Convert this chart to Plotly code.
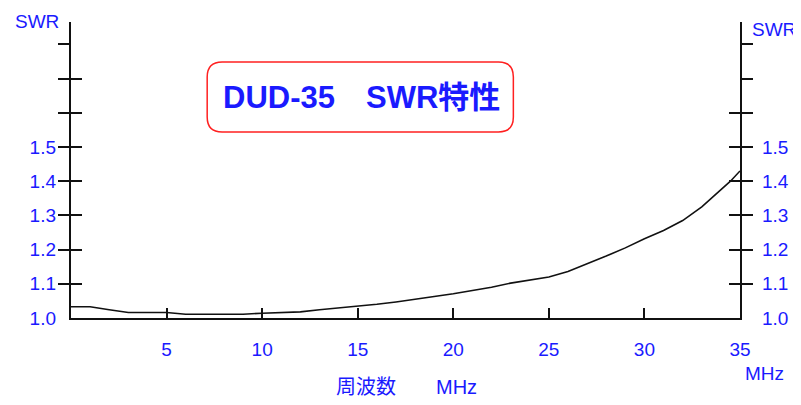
import plotly.graph_objects as go

# ---- data ----
freq_mhz = [0, 1, 2, 3, 4, 5, 6, 7, 8, 9, 10, 11, 12, 13, 14, 15, 16, 17, 18, 19,
            20, 21, 22, 23, 24, 25, 26, 27, 28, 29, 30, 31, 32, 33, 34, 34.5, 35]
swr = [1.033, 1.033, 1.024, 1.016, 1.016, 1.016, 1.011, 1.011, 1.011, 1.011,
       1.014, 1.016, 1.018, 1.024, 1.029, 1.035, 1.040, 1.047, 1.054, 1.063,
       1.071, 1.080, 1.090, 1.102, 1.112, 1.120, 1.136, 1.158, 1.181, 1.205,
       1.232, 1.256, 1.285, 1.325, 1.375, 1.400, 1.430]

x_tickvals = [5, 10, 15, 20, 25, 30, 35]
x_ticktext = ["5", "10", "15", "20", "25", "30", "35"]
y_label_vals = [1.0, 1.1, 1.2, 1.3, 1.4, 1.5]
y_label_text = ["1.0", "1.1", "1.2", "1.3", "1.4", "1.5"]
y_out_ticks = [1.1, 1.2, 1.3, 1.4, 1.5, 1.6, 1.7, 1.8]
y_in_ticks_left = [1.1, 1.2, 1.3, 1.4, 1.5, 1.6, 1.7]
y_in_ticks_right = [1.1, 1.2, 1.3, 1.4, 1.5, 1.6]

title_text = "DUD-35\u3000SWR特性"
y_title = "SWR"
x_title = "周波数\u3000\u3000MHz"
x_unit = "MHz"

# ---- layout geometry (page has an 8px body margin) ----
OFF = 8
W, H = 801 - OFF, 405 - OFF
L, R, T, B = 71 - OFF, 57, 22 - OFF, 87
PW, PH = W - L - R, H - T - B
Y_MIN, Y_MAX = 1.0, 1.0 + PH / 342.0
BLUE = "#1a1aff"
FONT = "Liberation Sans, Noto Sans CJK JP, sans-serif"


def px_x(px):
    return (px - OFF - L) / PW


def px_y(py):
    return (H - B - (py - OFF)) / PH


fig = go.Figure()
fig.add_trace(go.Scatter(x=freq_mhz, y=swr, mode="lines",
                         line=dict(color="#111111", width=1.6),
                         hoverinfo="skip", showlegend=False))
# carrier traces so the overlaid tick/label axes get drawn
for ya in ["y2", "y3", "y4", "y5", "y6"]:
    fig.add_trace(go.Scatter(x=freq_mhz, y=swr, mode="lines", yaxis=ya,
                             line=dict(color="rgba(0,0,0,0)", width=0),
                             opacity=0, hoverinfo="skip", showlegend=False))

common_y = dict(range=[Y_MIN, Y_MAX], showgrid=False, zeroline=False, fixedrange=True,
                tickmode="array", tickcolor="#111111", tickwidth=2, ticklen=11,
                tickfont=dict(family=FONT, size=19, color=BLUE))

fig.update_layout(
    width=W, height=H,
    margin=dict(l=L, r=R, t=T, b=B, pad=0),
    paper_bgcolor="white", plot_bgcolor="white",
    showlegend=False,
    xaxis=dict(range=[0, 35], showgrid=False, zeroline=False, fixedrange=True,
               showline=True, linecolor="#111111", linewidth=2,
               tickmode="array", tickvals=x_tickvals, ticktext=x_ticktext,
               ticks="inside", ticklen=10, tickwidth=2, tickcolor="#111111",
               ticklabelstandoff=13,
               tickfont=dict(family=FONT, size=19, color=BLUE)),
    yaxis=dict(**common_y, side="left", showline=True, linecolor="#111111", linewidth=2,
               ticks="outside", tickvals=y_out_ticks, showticklabels=False),
    yaxis3=dict(**common_y, side="left", overlaying="y", anchor="x",
                ticks="inside", tickvals=y_in_ticks_left, showticklabels=False),
    yaxis5=dict(**common_y, side="left", overlaying="y", anchor="x",
                ticks="", tickvals=y_label_vals, ticktext=y_label_text,
                ticklabelstandoff=14),
    yaxis2=dict(**common_y, side="right", overlaying="y", anchor="x",
                showline=True, linecolor="#111111", linewidth=2,
                ticks="outside", tickvals=y_out_ticks, showticklabels=False),
    yaxis4=dict(**common_y, side="right", overlaying="y", anchor="x",
                ticks="inside", tickvals=y_in_ticks_right, showticklabels=False),
    yaxis6=dict(**common_y, side="right", overlaying="y", anchor="x",
                ticks="", tickvals=y_label_vals, ticktext=y_label_text,
                ticklabelstandoff=21),
)

# rounded title box
x0, x1 = px_x(208), px_x(516)
y0, y1 = px_y(132), px_y(62)
rx, ry = 15 / PW, 15 / PH
path = (f"M {x0+rx},{y0} L {x1-rx},{y0} Q {x1},{y0} {x1},{y0+ry} "
        f"L {x1},{y1-ry} Q {x1},{y1} {x1-rx},{y1} "
        f"L {x0+rx},{y1} Q {x0},{y1} {x0},{y1-ry} "
        f"L {x0},{y0+ry} Q {x0},{y0} {x0+rx},{y0} Z")
fig.add_shape(type="path", path=path, xref="paper", yref="paper",
              line=dict(color="#ff2020", width=1.5), fillcolor="white")

ann_font = dict(family=FONT, size=19, color=BLUE)
fig.add_annotation(text=f"<b>{title_text}</b>", x=px_x(363), y=px_y(97),
                   xref="paper", yref="paper", showarrow=False,
                   xanchor="center", yanchor="middle",
                   font=dict(family=FONT, size=31, color=BLUE))
fig.add_annotation(text=y_title, x=px_x(37), y=px_y(21), xref="paper", yref="paper",
                   showarrow=False, xanchor="center", yanchor="middle", font=ann_font)
fig.add_annotation(text=y_title, x=px_x(754), y=px_y(30), xref="paper", yref="paper",
                   showarrow=False, xanchor="left", yanchor="middle", font=ann_font)
fig.add_annotation(text=x_unit, x=px_x(769), y=px_y(373), xref="paper", yref="paper",
                   showarrow=False, xanchor="center", yanchor="middle", font=ann_font)
fig.add_annotation(text=x_title, x=px_x(409), y=px_y(387), xref="paper", yref="paper",
                   showarrow=False, xanchor="center", yanchor="middle",
                   font=dict(family=FONT, size=20, color=BLUE))

fig.write_html("out.html")
